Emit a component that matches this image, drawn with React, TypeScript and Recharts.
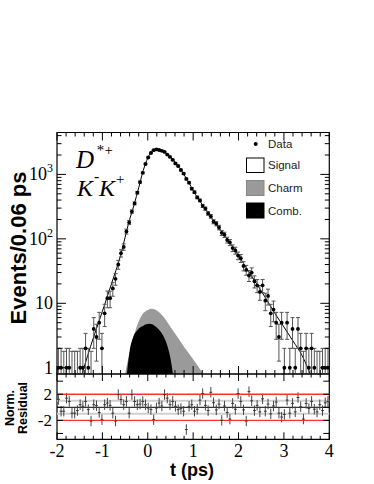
import React from "react";
import {
  ComposedChart,
  Line,
  Area,
  Scatter,
  XAxis,
  YAxis,
  ErrorBar,
  ReferenceArea,
  ReferenceLine,
} from "recharts";

// 100 bins of 0.06 ps between -2 and 4 ps
const T_MIN = -2;
const BIN_W = 0.06;

const COUNTS = [
  1, 1, 0, 1, 1, 0, 0, 0, 1, 1, 2, 1, 0, 4, 3, 5, 2, 7, 12, 12, 17, 24, 40, 60,
  75, 130, 180, 265, 355, 520, 760, 1060, 1450, 1830, 2150, 2380, 2440, 2390, 2320, 2230,
  2030, 1870, 1680, 1480, 1350, 1170, 1030, 850, 745, 600, 530, 440, 395, 325, 295, 248,
  224, 185, 172, 150, 124, 116, 96, 88, 72, 66, 55, 50, 38,
  33, 27, 30, 22, 19, 15, 19, 11, 13, 7, 8, 5, 3, 5, 1, 5, 1, 4, 1, 4, 2, 0, 2, 1, 2, 1,
  0, 0, 1, 1, 1,
];

const RESIDUALS = [
  1.2, -0.6, -0.6, 1.4, 0.9, -0.9, -0.9, -0.5, 0.4, 0.15, 0.9, -0.35, -2.1, 0.4, 0.25, -0.8,
  -1.9, 0.4, 0.65, 0.3, -0.9, -2.1, 1.95, 1.2, 0.4, 0.9, -0.9, 1.95, 0.9, 0.4, 0.5, 0.9,
  0.4, -0.1, -0.35, -1.9, -0.1, 0.65, 0.2, 1.95, 1.4, 0.4, 0.9, 0.15, -0.35, -0.2, -0.6, -3.4,
  0.15, 0.4, -0.6, -0.3, 1.1, 2.1, 0.3, -0.5, 2.3, 0.7, -0.4, 0.5, -2.0, 0.2, -0.8, -1.8,
  0.6, -0.3, 2.1, 0.9, -0.4, -2.1, 2.4, 1.0, -0.5, 0.3, -0.7, 1.3, -0.6, 0.5, -1.0, 0.2,
  0.8, -0.9, -1.5, -1.1, 1.1, -0.9, 0.6, -0.7, 1.5, 0.1, -1.8, 0.6, -0.2, 0.9, -0.3, -0.7,
  0.4, -0.5, 0.7, 0.9,
];

// fit curve
const FIT_T = [
  -1.45, -1.2, -1.0, -0.8, -0.6, -0.4, -0.3, -0.2, -0.1, 0.0, 0.1, 0.2, 0.3, 0.4, 0.5, 0.6,
  0.7, 0.8, 0.9, 1.0, 1.2, 1.4, 1.6, 1.8, 2.0, 2.2, 2.4, 2.6, 2.8, 3.0, 3.2, 3.4, 3.58,
];
const FIT_V = [
  0.8, 2.9, 7.5, 20, 55, 200, 340, 620, 1150, 1800, 2300, 2450, 2350, 2150, 1850, 1550,
  1280, 990, 760, 560, 340, 215, 137, 88, 55, 33, 20, 12, 7, 4.3, 2.6, 1.55, 0.8,
];

// charm background (grey)
const CHARM_T = [-0.5, -0.42, -0.35, -0.28, -0.2, -0.1, 0.0, 0.09, 0.2, 0.3, 0.4, 0.5, 0.6, 0.7, 0.8, 0.9, 1.0, 1.1, 1.22];
const CHARM_V = [0.8, 1.5, 2.4, 3.6, 5.2, 7.0, 7.9, 8.2, 7.7, 6.7, 5.5, 4.3, 3.4, 2.7, 2.1, 1.7, 1.35, 1.07, 0.8];

// combinatorial background (black)
const COMB_T = [-0.46, -0.4, -0.32, -0.22, -0.1, 0.04, 0.15, 0.25, 0.35, 0.44, 0.5, 0.555];
const COMB_V = [0.8, 1.8, 3.0, 3.9, 4.5, 4.8, 4.5, 3.9, 3.05, 2.1, 1.4, 0.8];

const X_LABELS = ["-2", "-1", "0", "1", "2", "3", "4"];
const LOG_MAJOR = [1, 10, 100, 1000];
const LOG_LABELS = [["1", ""], ["10", ""], ["10", "2"], ["10", "3"]];
const RES_TICKS = [-4, -2, 0, 2, 4];
const RES_LABELS: Record<string, string> = { "-2": "-2", "2": "2" };

const LEGEND = ["Data", "Signal", "Charm", "Comb."];

// layout
const W = 374;
const H = 484;
const PL = 57;
const PR = 329.3;
const PT = 132.5;
const PM = 374;
const PB = 439.3;
const Y_DOM: [number, number] = [0.8, 4470];
const R_DOM: [number, number] = [-4.9, 5.1];
const SERIF = "'Liberation Serif', 'Times New Roman', serif";
const SANS = "'Liberation Sans', Arial, sans-serif";

const X_TICKS: number[] = [];
for (let k = 0; k <= 30; k++) X_TICKS.push(+(-2 + 0.2 * k).toFixed(1));
const LOG_TICKS: number[] = [];
for (const d of [1, 10, 100, 1000]) for (let m = 1; m <= 9; m++) if (d * m < 4470) LOG_TICKS.push(d * m);

const binT = (i: number) => +(T_MIN + BIN_W * (i + 0.5)).toFixed(3);

const points = COUNTS.map((n, i) => ({ t: binT(i), n }))
  .filter((d) => d.n > 0)
  .map((d) => {
    const s = Math.sqrt(d.n);
    return { t: d.t, v: d.n, err: [Math.min(s, d.n - 0.81), s] };
  });
const zeroBins = COUNTS.map((n, i) => ({ t: binT(i), n }))
  .filter((d) => d.n === 0)
  .map((d) => ({ t: d.t, v: 0.8, err: [0, 1.0] }));
const fit = FIT_T.map((t, i) => ({ t, v: FIT_V[i] }));
const charm = CHARM_T.map((t, i) => ({ t, v: CHARM_V[i] }));
const comb = COMB_T.map((t, i) => ({ t, v: COMB_V[i] }));
const resid = RESIDUALS.map((r, i) => ({ t: binT(i), v: r, e: 0.8 }));

function TopXTick({ x, payload }: any) {
  const len = Number.isInteger(payload.value) ? 8 : 4;
  return (
    <g stroke="#000" strokeWidth={1}>
      <line x1={x} y1={PM} x2={x} y2={PM - len} />
      <line x1={x} y1={PT} x2={x} y2={PT + len} />
    </g>
  );
}

function ResXTick({ x, payload }: any) {
  const v = payload.value;
  const major = Number.isInteger(v);
  const len = major ? 7 : 3.5;
  const idx = [-2, -1, 0, 1, 2, 3, 4].indexOf(v);
  return (
    <g>
      <line x1={x} y1={PB} x2={x} y2={PB - len} stroke="#000" />
      <line x1={x} y1={PM} x2={x} y2={PM + len} stroke="#000" />
      {major && idx >= 0 && (
        <text x={x} y={PB + 18} textAnchor="middle" fontFamily={SERIF} fontSize={18} fill="#000">
          {X_LABELS[idx]}
        </text>
      )}
    </g>
  );
}

function LogYTick({ y, payload }: any) {
  const v = payload.value;
  const idx = LOG_MAJOR.indexOf(v);
  const len = idx >= 0 ? 9 : 4.5;
  return (
    <g>
      <line x1={PL} y1={y} x2={PL + len} y2={y} stroke="#000" />
      <line x1={PR} y1={y} x2={PR - len} y2={y} stroke="#000" />
      {idx >= 0 && (
        <text x={PL - 4} y={y + 6} textAnchor="end" fontFamily={SERIF} fontSize={18} fill="#000">
          {LOG_LABELS[idx][0]}
          {LOG_LABELS[idx][1] && (
            <tspan fontSize={12} dy={-8}>
              {LOG_LABELS[idx][1]}
            </tspan>
          )}
        </text>
      )}
    </g>
  );
}

function ResYTick({ y, payload }: any) {
  const label = RES_LABELS[String(payload.value)];
  return (
    <g>
      <line x1={PL} y1={y} x2={PL + 6} y2={y} stroke="#000" />
      <line x1={PR} y1={y} x2={PR - 6} y2={y} stroke="#000" />
      {label && (
        <text x={PL - 5} y={y + 6} textAnchor="end" fontFamily={SERIF} fontSize={17} fill="#000">
          {label}
        </text>
      )}
    </g>
  );
}

export default function App() {
  return (
    <div style={{ position: "relative", width: W, height: H, background: "#fff" }}>
      <style>{"body{margin:0}"}</style>
      <div style={{ position: "absolute", left: 0, top: 0 }}>
        <ComposedChart width={W} height={PM + 12} margin={{ top: PT, right: W - PR, bottom: 10, left: PL - 2 }}>
          <XAxis
            dataKey="t"
            type="number"
            domain={[-2, 4]}
            ticks={X_TICKS}
            interval={0}
            height={2}
            axisLine={false}
            tickLine={false}
            tickSize={0}
            tickMargin={0}
            tick={(p: any) => <TopXTick {...p} />}
            allowDataOverflow
          />
          <YAxis
            dataKey="v"
            type="number"
            scale="log"
            domain={Y_DOM}
            ticks={LOG_TICKS}
            interval={0}
            width={2}
            axisLine={false}
            tickLine={false}
            tickSize={0}
            tickMargin={0}
            tick={(p: any) => <LogYTick {...p} />}
            allowDataOverflow
          />
          <Area data={charm} dataKey="v" type="monotone" stroke="none" fill="#9a9a9a" fillOpacity={1} isAnimationActive={false} />
          <Area data={comb} dataKey="v" type="monotone" stroke="none" fill="#000" fillOpacity={1} isAnimationActive={false} />
          <Line data={fit} dataKey="v" type="monotone" stroke="#000" strokeWidth={1} dot={false} isAnimationActive={false} />
          <Scatter data={zeroBins} dataKey="v" shape={() => <g />} isAnimationActive={false}>
            <ErrorBar dataKey="err" direction="y" width={2.5} stroke="#555" strokeWidth={1} />
          </Scatter>
          <Scatter
            data={points}
            dataKey="v"
            shape={(p: any) => <circle cx={p.cx} cy={p.cy} r={1.9} fill="#000" />}
            isAnimationActive={false}
          >
            <ErrorBar dataKey="err" direction="y" width={2} stroke="#555" strokeWidth={1} />
          </Scatter>
          <ReferenceArea x1={-2} x2={4} y1={Y_DOM[0]} y2={Y_DOM[1]} fill="none" fillOpacity={0} stroke="#000" strokeWidth={1.2} />
        </ComposedChart>
      </div>
      <div style={{ position: "absolute", left: 0, top: 0 }}>
        <ComposedChart width={W} height={H} margin={{ top: PM, right: W - PR, bottom: H - PB - 2, left: PL - 2 }}>
          <XAxis
            dataKey="t"
            type="number"
            domain={[-2, 4]}
            ticks={X_TICKS}
            interval={0}
            height={2}
            axisLine={false}
            tickLine={false}
            tickSize={0}
            tickMargin={0}
            tick={(p: any) => <ResXTick {...p} />}
            allowDataOverflow
          />
          <YAxis
            dataKey="v"
            type="number"
            domain={R_DOM}
            ticks={RES_TICKS}
            interval={0}
            width={2}
            axisLine={false}
            tickLine={false}
            tickSize={0}
            tickMargin={0}
            tick={(p: any) => <ResYTick {...p} />}
            allowDataOverflow
          />
          <ReferenceLine y={1} stroke="#cfcfcf" strokeWidth={2} />
          <ReferenceLine y={-1} stroke="#cfcfcf" strokeWidth={2} />
          <ReferenceLine y={0} stroke="#000" strokeWidth={1} />
          <Scatter
            data={resid}
            dataKey="v"
            shape={(p: any) => <line x1={p.cx - 1.4} x2={p.cx + 1.4} y1={p.cy} y2={p.cy} stroke="#333" strokeWidth={1} />}
            isAnimationActive={false}
          >
            <ErrorBar dataKey="e" direction="y" width={0} stroke="#444" strokeWidth={1} />
          </Scatter>
          <ReferenceLine y={2} stroke="#ff3030" strokeWidth={1.3} />
          <ReferenceLine y={-2} stroke="#ff3030" strokeWidth={1.3} />
          <ReferenceArea x1={-2} x2={4} y1={R_DOM[0]} y2={R_DOM[1]} fill="none" fillOpacity={0} stroke="#000" strokeWidth={1.2} />
        </ComposedChart>
      </div>
      <svg width={W} height={H} style={{ position: "absolute", left: 0, top: 0, pointerEvents: "none" }}>
        <text transform="translate(26,248) rotate(-90)" textAnchor="middle" fontFamily={SANS} fontWeight="bold" fontSize={22} fill="#000">
          Events/0.06 ps
        </text>
        <text x={192} y={476} textAnchor="middle" fontFamily={SANS} fontWeight="bold" fontSize={18} fill="#000">
          t (ps)
        </text>
        <text transform="translate(14,408) rotate(-90)" textAnchor="middle" fontFamily={SANS} fontWeight="bold" fontSize={12.5} fill="#000">
          Norm.
        </text>
        <text transform="translate(27,408) rotate(-90)" textAnchor="middle" fontFamily={SANS} fontWeight="bold" fontSize={12.5} fill="#000">
          Residual
        </text>
        <g fontFamily={SERIF} fontStyle="italic" fill="#000">
          <text x={76} y={168} fontSize={25}>D</text>
          <text x={96} y={155} fontSize={15}>*+</text>
          <text x={77} y={196} fontSize={24}>K</text>
          <text x={94} y={182} fontSize={16} fontStyle="normal">-</text>
          <text x={99} y={196} fontSize={24}>K</text>
          <text x={115} y={184} fontSize={15}>+</text>
        </g>
        <g fontFamily={SANS} fontSize={11.5} fill="#222">
          <circle cx={255.7} cy={144} r={2} fill="#000" />
          <text x={268} y={148}>{LEGEND[0]}</text>
          <rect x={246.5} y={158} width={17.5} height={14.5} fill="#fff" stroke="#000" strokeWidth={1} />
          <text x={268} y={169}>{LEGEND[1]}</text>
          <rect x={246.5} y={180.5} width={17.5} height={15} fill="#9a9a9a" stroke="#888" strokeWidth={1} />
          <text x={268} y={192}>{LEGEND[2]}</text>
          <rect x={246.5} y={203} width={17.5} height={15} fill="#000" stroke="#000" strokeWidth={1} />
          <text x={268} y={214.5}>{LEGEND[3]}</text>
        </g>
      </svg>
    </div>
  );
}
